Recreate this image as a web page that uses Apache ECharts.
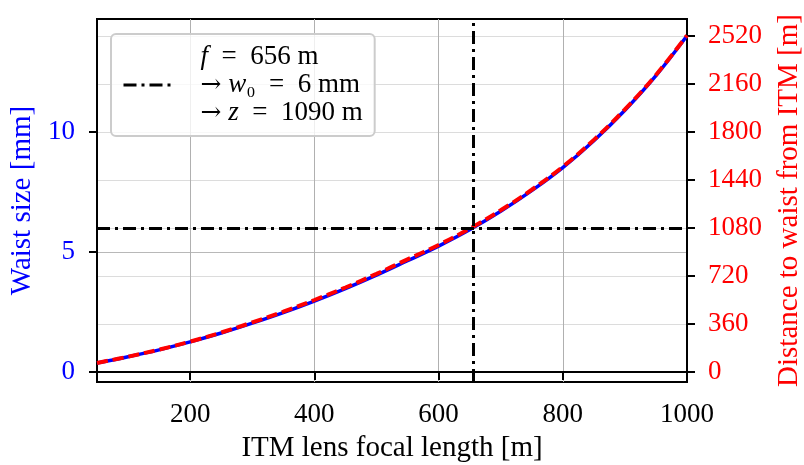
<!DOCTYPE html>
<html>
<head>
<meta charset="utf-8">
<script src="https://cdn.jsdelivr.net/npm/echarts@6/dist/echarts.min.js"></script>
<style>html,body{margin:0;padding:0;background:#fff}#c{width:804px;height:465px}</style>
</head>
<body>
<div id="c"></div>
<script>
// ---- data ----
const focal = [50,100,150,200,250,300,350,400,450,500,550,600,650,700,750,800,850,900,950,1000];
const waist = [0.37,0.63,0.92,1.25,1.62,2.03,2.47,2.95,3.47,4.03,4.63,5.24,5.92,6.69,7.55,8.51,9.63,10.90,12.34,14.00];
const distance = [68,115,168,228,296,372,452,540,634,736,845,953,1075,1213,1367,1540,1741,1970,2228,2525];
const xTicks = [200,400,600,800,1000];
const leftTicks = [0,5,10];
const rightTicks = [0,360,720,1080,1440,1800,2160,2520];
const fSel = 656, w0Sel = 6, zSel = 1090;

const FONT = 'Liberation Serif';
const chart = echarts.init(document.getElementById('c'), null, {renderer:'canvas'});
const dashDot = [13,5,3,5];
const plain = v => String(v);
const SP = '\u2002';
const AS = '\u2005';

chart.setOption({
  animation: false,
  backgroundColor: '#fff',
  textStyle: {fontFamily: FONT},
  grid: {left: 97, right: 117, top: 19, bottom: 83, show: true, borderColor: '#000', borderWidth: 2,
         backgroundColor: 'transparent', containLabel: false, outerBoundsMode: 'none'},
  legend: {
    show: true,
    data: [{name: 'sel', itemStyle: {opacity: 0}}],
    left: 111, top: 34,
    orient: 'vertical',
    padding: [9, 12, 9, 11],
    backgroundColor: 'rgba(255,255,255,0.8)',
    borderColor: '#cccccc', borderWidth: 2, borderRadius: 5,
    itemWidth: 51, itemHeight: 14,
    itemStyle: {opacity: 0},
    lineStyle: {width: 3},
    formatter: function () {
      return '{p| }{i|f}{r|' + SP + '=' + SP + fSel + ' m}\n' +
             '{p| }{a|→}{r|' + AS + '}{i|w}{r|₀' + SP + '=' + SP + w0Sel + ' mm}\n' +
             '{p| }{a|→}{r|' + AS + '}{i|z}{r|' + SP + '=' + SP + zSel + ' m}';
    },
    textStyle: {
      fontFamily: FONT, fontSize: 27, color: '#000', lineHeight: 28,
      rich: {
        p: {width: 21, fontSize: 27, lineHeight: 28},
        a: {fontFamily: 'DejaVu Serif', fontSize: 25, lineHeight: 28},
        i: {fontStyle: 'italic', fontSize: 27, fontFamily: FONT, lineHeight: 28},
        r: {fontSize: 27, fontFamily: FONT, lineHeight: 28}
      }
    }
  },
  xAxis: {
    type: 'value', min: 50, max: 1000,
    name: 'ITM lens focal length [m]', nameLocation: 'middle', nameGap: 52,
    nameTextStyle: {fontFamily: FONT, fontSize: 29, color: '#000'},
    axisLine: {show: true, lineStyle: {color: '#000', width: 2}},
    axisTick: {show: true, inside: false, length: 8, lineStyle: {color: '#000', width: 2}, customValues: xTicks},
    axisLabel: {show: true, margin: 19, fontFamily: FONT, fontSize: 27, color: '#000', customValues: xTicks, formatter: plain},
    splitLine: {show: true, lineStyle: {color: '#b0b0b0', width: 1}}
  },
  yAxis: [{
    type: 'value', min: -0.42, max: 14.70, position: 'left',
    name: 'Waist size [mm]', nameLocation: 'middle', nameGap: 60,
    nameTextStyle: {fontFamily: FONT, fontSize: 29, color: '#0000ff'},
    axisLine: {show: true, lineStyle: {color: '#000', width: 2}},
    axisTick: {show: true, length: 8, lineStyle: {color: '#000', width: 2}, customValues: leftTicks},
    axisLabel: {show: true, margin: 22, fontFamily: FONT, fontSize: 27, color: '#0000ff', customValues: leftTicks, formatter: plain},
    splitLine: {show: true, lineStyle: {color: '#b8b8b8', width: 1}}
  }, {
    type: 'value', min: -75, max: 2647.6, position: 'right',
    name: 'Distance to waist from ITM [m]', nameLocation: 'middle', nameGap: 88,
    nameTextStyle: {fontFamily: FONT, fontSize: 29, color: '#ff0000'},
    axisLine: {show: true, lineStyle: {color: '#000', width: 2}},
    axisTick: {show: true, length: 8, lineStyle: {color: '#000', width: 2}, customValues: rightTicks},
    axisLabel: {show: true, margin: 21, fontFamily: FONT, fontSize: 27, color: '#ff0000', customValues: rightTicks, formatter: plain},
    splitLine: {show: true, lineStyle: {color: '#dcdcdc', width: 1}}
  }],
  series: [{
    type: 'line', name: 'waist', yAxisIndex: 0,
    data: focal.map((f, i) => [f, waist[i]]),
    smooth: 0.4, symbol: 'none',
    lineStyle: {color: '#0000ff', width: 3.5}, z: 3
  }, {
    type: 'line', name: 'distance', yAxisIndex: 1,
    data: focal.map((f, i) => [f, distance[i]]),
    smooth: 0.4, symbol: 'none',
    lineStyle: {color: '#ff0000', width: 4, type: [11, 5]}, z: 4
  }, {
    type: 'line', name: 'sel', yAxisIndex: 0,
    data: [],
    symbol: 'none',
    itemStyle: {color: '#000'},
    lineStyle: {color: '#000', width: 3, type: dashDot},
    markLine: {
      silent: true, symbol: 'none', label: {show: false},
      lineStyle: {color: '#000', width: 3, type: dashDot},
      data: [{xAxis: fSel}, {yAxis: w0Sel}]
    },
    z: 5
  }]
});
</script>
</body>
</html>
